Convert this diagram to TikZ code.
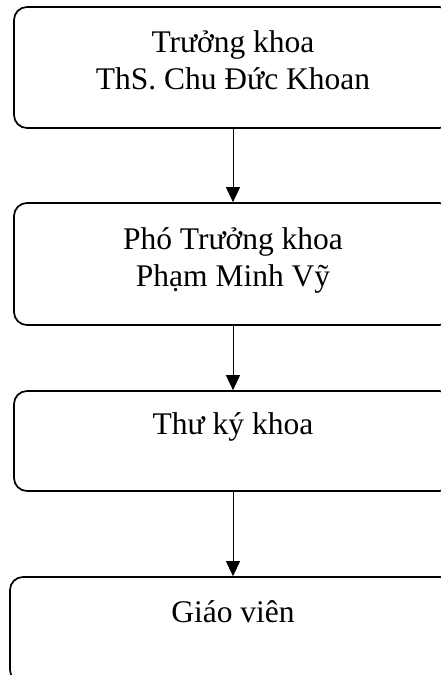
\documentclass[tikz,border=0pt]{standalone}
\usepackage{fontspec}
\setmainfont{Liberation Serif}
\usetikzlibrary{arrows.meta, positioning}

\begin{document}
\begin{tikzpicture}[
  x=1pt, y=-1pt,
  box/.style={draw=black, line width=1.7pt, rounded corners=13pt,
              minimum width=438pt, inner sep=0pt},
  lbl/.style={font=\fontsize{31.5}{37}\selectfont, align=center,
              inner sep=0pt, anchor=base},
  arr/.style={-{Triangle[length=15pt, width=14pt]}, line width=1pt},
]
  % --- page frame (boxes run past the right and bottom edges) ---
  \clip (0,0) rectangle (441,675);

  % --- boxes ---
  \node[box, minimum height=121pt] (truong) at (233,67.5) {};
  \node[box, minimum height=122pt] (pho)    at (233,264) {};
  \node[box, minimum height=100pt] (thuky)  at (233,441) {};
  \node[box, minimum height=106pt, minimum width=446pt] (gv) at (233,630) {};

  % --- texts (base = last line) ---
  \node[lbl] (truongT) at ([yshift=-83pt]truong.north) {Trưởng khoa\\ThS. Chu Đức Khoan};
  \node[lbl] (phoT)    at ([yshift=-84pt]pho.north) {Phó Trưởng khoa\\Phạm Minh Vỹ};
  \node[lbl] (thukyT)  at ([yshift=-44pt]thuky.north) {Thư ký khoa};
  \node[lbl] (gvT)     at ([yshift=-46pt]gv.north) {Giáo viên};

  % --- arrows ---
  \draw[arr] (truong) -- (pho);
  \draw[arr] (pho) -- (thuky);
  \draw[arr] (thuky) -- (gv);
\end{tikzpicture}
\end{document}
